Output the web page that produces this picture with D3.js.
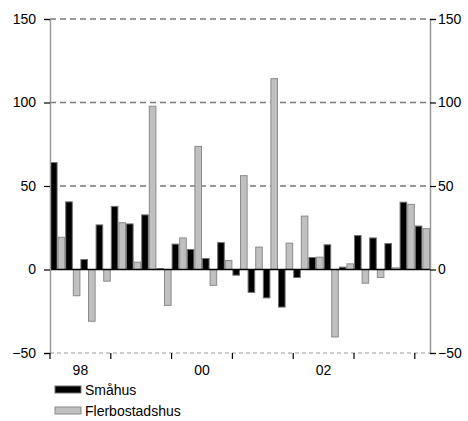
<!DOCTYPE html>
<html>
<head>
<meta charset="utf-8">
<script src="https://cdn.jsdelivr.net/npm/d3@7"></script>
<style>
  html, body { margin: 0; padding: 0; background: #fff; }
  svg { display: block; font-family: "Liberation Sans", Arial, sans-serif; }
</style>
</head>
<body>
<svg id="chart" width="468" height="421"></svg>
<script>
// Quarterly change, 1998 Q1 – 2004 Q1
const quarters = ["98Q1","98Q2","98Q3","98Q4","99Q1","99Q2","99Q3","99Q4",
                  "00Q1","00Q2","00Q3","00Q4","01Q1","01Q2","01Q3","01Q4",
                  "02Q1","02Q2","02Q3","02Q4","03Q1","03Q2","03Q3","03Q4","04Q1"];
const smahus = [64, 40.5, 6, 26.7, 37.8, 27.3, 32.7, 0.5, 15.2, 12, 6.6, 16.1,
                -3.4, -13.7, -17, -22.5, -4.8, 7.2, 14.8, 1.4, 20.3, 18.9, 15.5, 40.3, 26];
const flerbostadshus = [19.3, -15.7, -31, -7, 28, 4.4, 97.8, -21.5, 18.9, 73.7, -9.5, 5.4,
                        56.2, 13.4, 114.3, 15.8, 32, 7.4, -40.4, 3.4, -8.2, -4.8, 1, 39, 24.5];
const yTicks = [-50, 0, 50, 100, 150];
const years = ["98", "99", "00", "01", "02", "03"];
const yearLabels = ["98", "", "00", "", "02", ""];
const seriesNames = ["Småhus", "Flerbostadshus"];

const svg = d3.select("#chart");
const plotLeft = 50, plotRight = 430, plotTop = 19, plotBottom = 353;

const y = d3.scaleLinear().domain([-50, 150]).range([plotBottom, plotTop]);
const x = d3.scaleBand().domain(quarters).range([plotLeft, plotRight]).padding(0);
const sub = d3.scaleBand().domain([0, 1]).range([0, x.bandwidth()]).padding(0);

// dashed gridlines
svg.append("g").selectAll("line")
  .data([50, 100, 150])
  .join("line")
  .attr("x1", plotLeft).attr("x2", plotRight)
  .attr("y1", d => y(d)).attr("y2", d => y(d))
  .attr("stroke", "#7a7a7a").attr("stroke-width", 1.4)
  .attr("stroke-dasharray", "6,4");

// bottom dashed baseline at -50
svg.append("line")
  .attr("x1", plotLeft).attr("x2", plotRight)
  .attr("y1", y(-50)).attr("y2", y(-50))
  .attr("stroke", "#9a9a9a").attr("stroke-width", 1.2)
  .attr("stroke-dasharray", "4,3");

// bars
const colors = ["#000000", "#c0c0c0"];
const strokes = ["#707070", "#8a8a8a"];
[smahus, flerbostadshus].forEach((vals, s) => {
  svg.append("g").selectAll("rect")
    .data(vals)
    .join("rect")
    .attr("x", (d, i) => x(quarters[i]) + sub(s) + 0.5)
    .attr("width", sub.bandwidth() - 1)
    .attr("y", d => y(Math.max(0, d)))
    .attr("height", d => Math.abs(y(d) - y(0)))
    .attr("fill", colors[s])
    .attr("stroke", strokes[s])
    .attr("stroke-width", 1);
});

// zero line
svg.append("line")
  .attr("x1", plotLeft).attr("x2", plotRight)
  .attr("y1", y(0)).attr("y2", y(0))
  .attr("stroke", "#000").attr("stroke-width", 1.5);

// left and right axes
const yAxisL = d3.axisLeft(y).tickValues(yTicks).tickSize(6).tickPadding(8);
const yAxisR = d3.axisRight(y).tickValues(yTicks).tickSize(6).tickPadding(2);
[[yAxisL, plotLeft], [yAxisR, plotRight]].forEach(([ax, pos]) => {
  const g = svg.append("g").attr("transform", `translate(${pos},0)`).call(ax);
  g.select(".domain").attr("stroke", "#999").attr("stroke-width", 1.5);
  g.selectAll(".tick line").attr("stroke", "#000").attr("stroke-width", 1.2);
  g.selectAll(".tick text").attr("font-size", 14).attr("fill", "#000")
    .attr("font-family", "Liberation Sans, Arial, sans-serif");
});

// year ticks on the bottom
const yearStart = years.map((yr, i) => x(quarters[i * 4]));
const tickPos = yearStart.concat([x(quarters[24])]);
svg.append("g").selectAll("line")
  .data(tickPos)
  .join("line")
  .attr("x1", d => d).attr("x2", d => d)
  .attr("y1", plotBottom).attr("y2", plotBottom + 6)
  .attr("stroke", "#000").attr("stroke-width", 1.2);

svg.append("g").selectAll("text")
  .data(yearLabels)
  .join("text")
  .attr("x", (d, i) => yearStart[i] + x.bandwidth() * 2)
  .attr("y", 375)
  .attr("text-anchor", "middle")
  .attr("font-size", 14)
  .text(d => d);

// legend
const legend = svg.append("g").attr("transform", "translate(55,386)");
seriesNames.forEach((name, i) => {
  const row = legend.append("g").attr("transform", `translate(0,${i * 21})`);
  row.append("rect").attr("x", 0).attr("y", 0).attr("width", 26).attr("height", 7)
    .attr("fill", colors[i]).attr("stroke", strokes[i]).attr("stroke-width", 1);
  row.append("text").attr("x", 30).attr("y", 9).attr("font-size", 14).text(name);
});
</script>
</body>
</html>
